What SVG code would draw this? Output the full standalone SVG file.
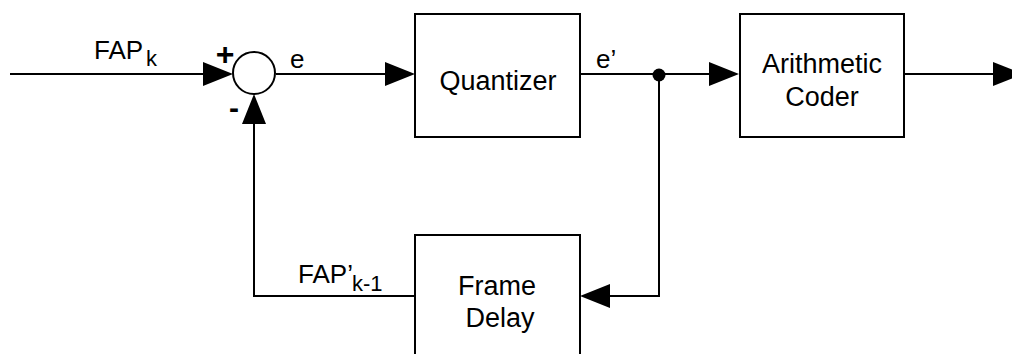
<svg xmlns="http://www.w3.org/2000/svg" width="1012" height="354" viewBox="0 0 1012 354">
<style>
  .box { fill: #fff; stroke: #000; stroke-width: 2; }
  .wire { fill: none; stroke: #000; stroke-width: 2; }
  .head { fill: #000; stroke: none; }
  text { font-family: "Liberation Sans", Arial, sans-serif; fill: #000; }
  .lbl { font-size: 26px; }
  .sub { font-size: 22px; }
  .node { font-size: 27px; text-anchor: middle; }
</style>
<rect width="1012" height="354" fill="#fff"/>
<g id="connectors">
  <polyline class="wire" points="10,74 205,74"/>
  <polygon class="head" points="203,62 233,74 203,86"/>
  <polyline class="wire" points="276,74 387,74"/>
  <polygon class="head" points="385,62 415,74 385,86"/>
  <polyline class="wire" points="580,74 711,74"/>
  <polygon class="head" points="709,62 739,74 709,86"/>
  <polyline class="wire" points="904,74 995,74"/>
  <polygon class="head" points="993,62 1023,74 993,86"/>
  <polyline class="wire" points="659,74 659,296 608,296"/>
  <polygon class="head" points="610,284 580,296 610,308"/>
  <polyline class="wire" points="415,296 254,296 254,122"/>
  <polygon class="head" points="242,124 254,94 266,124"/>
  <circle cx="659" cy="75" r="6.5" fill="#000"/>
</g>
<g id="sum">
  <circle cx="254" cy="73" r="21" class="wire"/>
  <text x="225" y="65" font-size="32" font-weight="bold" text-anchor="middle">+</text>
  <text x="234" y="118" font-size="30" font-weight="bold" text-anchor="middle">-</text>
</g>
<g id="quantizer">
  <rect class="box" x="415" y="14" width="165" height="123"/>
  <text class="node" x="498" y="90">Quantizer</text>
</g>
<g id="arithmetic-coder">
  <rect class="box" x="740" y="14" width="164" height="123"/>
  <text class="node" x="822" y="73">Arithmetic</text>
  <text class="node" x="822" y="106">Coder</text>
</g>
<g id="frame-delay">
  <rect class="box" x="415" y="235" width="165" height="135"/>
  <text class="node" x="497" y="295">Frame</text>
  <text class="node" x="500" y="327">Delay</text>
</g>
<g id="labels">
  <text class="lbl" x="94" y="59">FAP</text>
  <text class="sub" x="146" y="66">k</text>
  <text class="lbl" x="290" y="68">e</text>
  <text class="lbl" x="596" y="68">e’</text>
  <text class="lbl" x="298" y="283" font-size="25">FAP’</text>
  <text class="sub" x="352" y="291">k-1</text>
</g>
</svg>
